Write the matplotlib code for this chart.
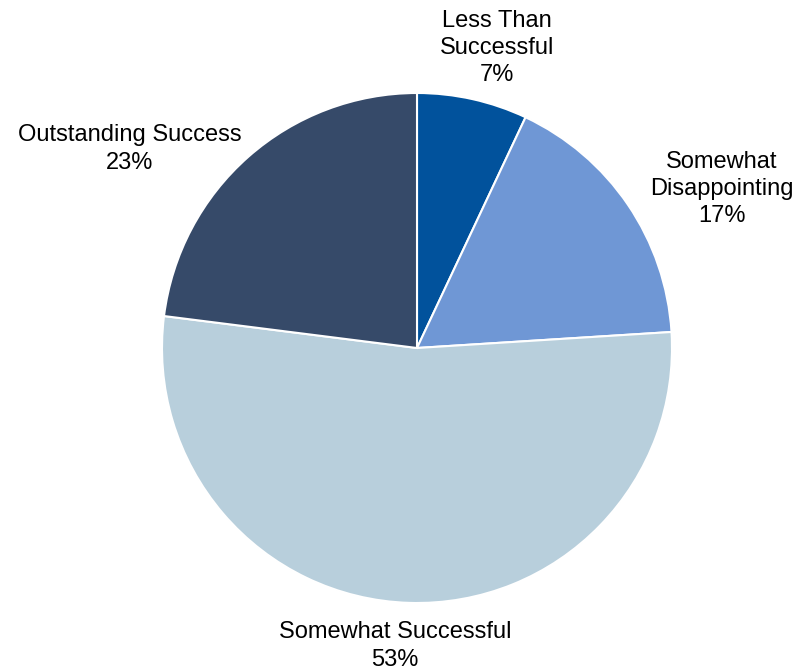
import matplotlib
matplotlib.use("Agg")
import matplotlib.pyplot as plt
import numpy as np

categories = ["Less Than\nSuccessful", "Somewhat\nDisappointing", "Somewhat Successful", "Outstanding Success"]
values = [7, 17, 53, 23]
colors = ["#01529C", "#6F97D5", "#B8CFDC", "#364A69"]

# label anchor positions in pixel space (layout)
label_pos = [(497, 48), (722, 189), (395, 646), (130, 149)]

W, H = 796, 672
fig = plt.figure(figsize=(W / 100, H / 100), dpi=100)
ax = fig.add_axes([0, 0, 1, 1])
ax.set_xlim(0, W)
ax.set_ylim(0, H)
ax.set_aspect("equal")
ax.axis("off")

cx, cy, r = 417, H - 348, 255
ax.pie(values, colors=colors, startangle=90, counterclock=False,
       center=(cx, cy), radius=r,
       wedgeprops=dict(edgecolor="white", linewidth=1.5))
ax.set_xlim(0, W)
ax.set_ylim(0, H)

for cat, v, (px, py) in zip(categories, values, label_pos):
    ax.text(px, H - py, f"{cat}\n{v}%", ha="center", va="center",
            fontsize=17, family=["Liberation Sans", "DejaVu Sans"],
            linespacing=1.3, color="black")

fig.savefig("out.png", dpi=100)
